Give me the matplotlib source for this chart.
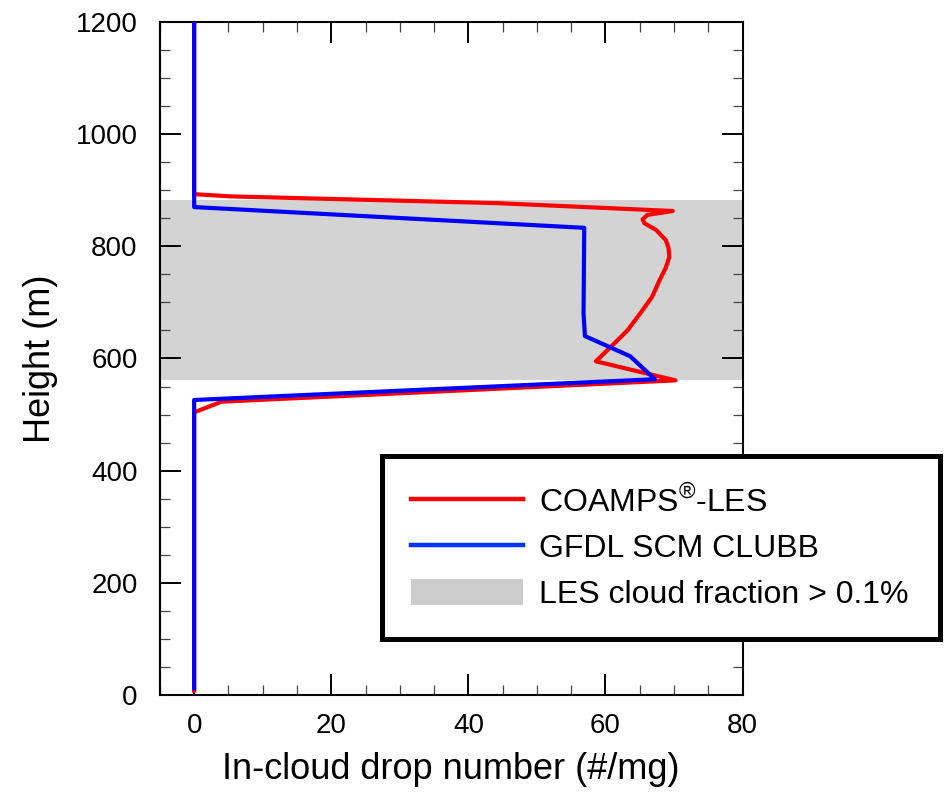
import matplotlib
matplotlib.use('agg')
import matplotlib.pyplot as plt
from matplotlib.patches import Patch

plt.rcParams['font.family'] = ['Liberation Sans', 'DejaVu Sans']
plt.rcParams['mathtext.fontset'] = 'custom'
plt.rcParams['mathtext.rm'] = 'Liberation Sans'

# COAMPS-LES profile (drop number, height)
les_n = [0, 0, 4.0, 70.2, 58.6, 60.8, 63.2, 65.1, 66.8, 67.9, 68.8, 69.3, 69.2, 68.8,
         67.4, 65.7, 65.4, 66.1, 69.8, 44.2, 5.4, 0, 0]
les_z = [8, 504, 523, 561, 595, 621, 650, 681, 710, 740, 762, 781, 797, 811,
         829, 841, 848, 856, 863, 877, 889, 893, 1200]

# GFDL SCM CLUBB profile
scm_n = [0, 0, 67.2, 63.6, 57.0, 56.8, 56.9, 0, 0]
scm_z = [12, 526, 563, 604, 640, 680, 833, 870, 1200]

# LES cloud layer (cloud fraction > 0.1%)
cloud_base = 562
cloud_top = 882

fig = plt.figure(figsize=(9.46, 7.94), dpi=100)
ax = fig.add_axes([0.169, 0.1247, 0.616, 0.8476])

ax.axhspan(cloud_base, cloud_top, color='#d3d3d3', lw=0, zorder=0)
ax.plot(les_n, les_z, color='#ff0000', lw=3, zorder=2)
ax.plot(scm_n, scm_z, color='#0000ff', lw=3, zorder=3)

ax.set_xlim(-5, 80)
ax.set_ylim(0, 1200)
ax.set_xticks([0, 20, 40, 60, 80])
ax.set_xticks(range(-5, 81, 5), minor=True)
ax.set_yticks(range(0, 1201, 200))
ax.set_yticks(range(0, 1201, 50), minor=True)

for s in ax.spines.values():
    s.set_linewidth(1.5)
ax.tick_params(which='both', direction='in', top=True, right=True, labelsize=20)
ax.tick_params(which='major', length=15, width=1.4)
ax.tick_params(which='minor', length=7.5, width=0.9, color='#444444')
ax.tick_params(axis='y', which='major', pad=16)
ax.tick_params(axis='x', which='major', pad=13)

ax.set_xlabel('In-cloud drop number (#/mg)', fontsize=26, labelpad=9)
ax.set_ylabel('Height (m)', fontsize=26, labelpad=13)

handles = [
    plt.Line2D([], [], color='#ff0000', lw=3.2),
    plt.Line2D([], [], color='#0033ff', lw=3.2),
    Patch(facecolor='#cccccc', edgecolor='none'),
]
labels = ['COAMPS$^{\\circledR}$-LES', 'GFDL SCM CLUBB', 'LES cloud fraction > 0.1%']
leg = fig.legend(handles, labels, loc='center', mode='expand',
                 bbox_to_anchor=(0.4038, 0.3105, 0.59, 0.0), fontsize=23,
                 frameon=True, fancybox=False, framealpha=1, handlelength=3.5,
                 handleheight=0.9, handletextpad=0.5, labelspacing=0.45,
                 borderpad=0.9, borderaxespad=0)
leg.get_frame().set_edgecolor('black')
leg.get_frame().set_linewidth(3.6)
leg.set_zorder(5)

fig.savefig('out.png', dpi=100)
